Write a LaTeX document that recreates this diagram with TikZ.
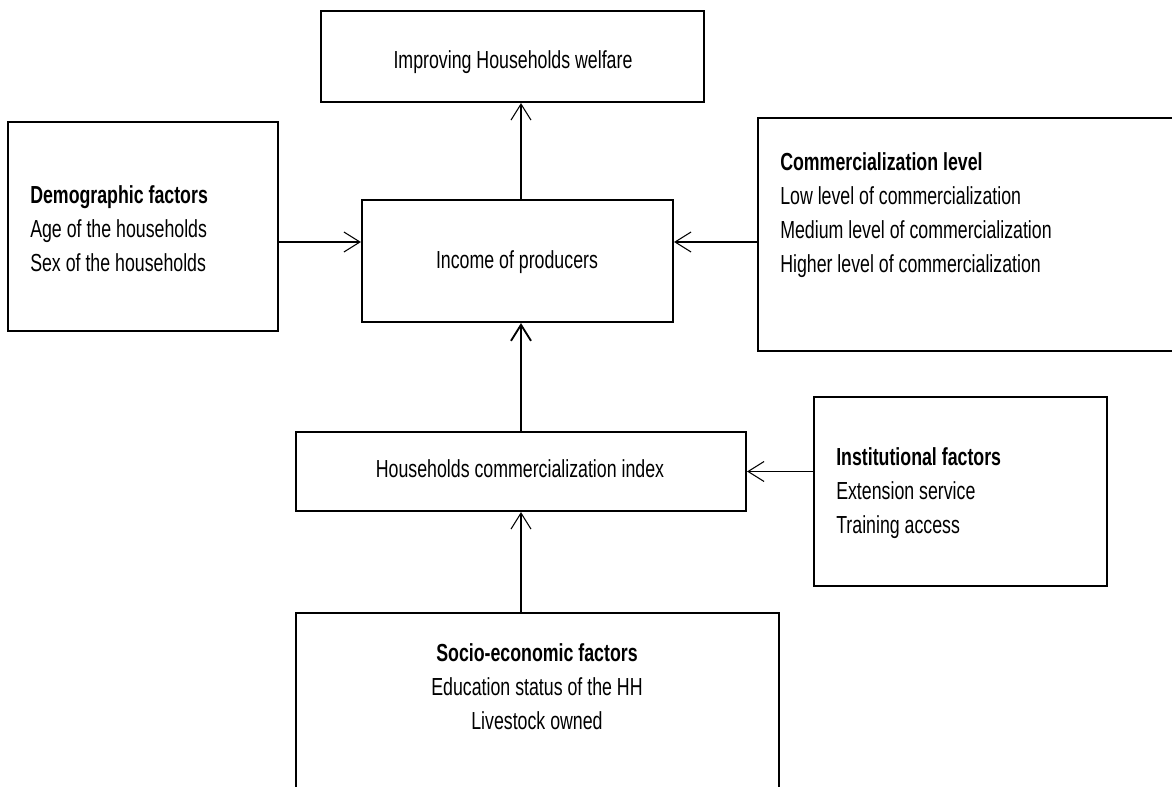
\documentclass[tikz,border=0pt]{standalone}
\usepackage{fontspec}
\setmainfont[FakeStretch=0.72]{Liberation Sans}
\usetikzlibrary{arrows.meta,fit}
\tikzset{
  box/.style={draw, line width=1.6pt, inner sep=0pt},
  txt/.style={inner sep=0pt, align=left},
  link/.style={->, line width=0.8pt}
}
\begin{document}
\begin{tikzpicture}[x=0.75pt, y=-0.75pt, line join=miter,
    >={Straight Barb[length=12pt,width=15pt]},
    font=\fontsize{18.5}{25.5}\selectfont]
  \useasboundingbox (0,0) rectangle (1172,787);
  \clip (0,0) rectangle (1172,787);
  % boxes
  \node[box, fit={(321,11) (704,102)}] (welfare) {};
  \node[box, fit={(8,122) (278,331)}] (demo) {};
  \node[box, fit={(362,200) (673,322)}] (income) {};
  \node[box, fit={(758,118) (1200,351)}] (comm) {};
  \node[box, fit={(296,432) (746,511)}] (index) {};
  \node[box, fit={(814,397) (1107,586)}] (inst) {};
  \node[box, fit={(296,613) (779,820)}] (socio) {};
  % texts
  \node[txt] (welfaretxt) at (513,62) {Improving Households welfare};
  \node[txt] (incometxt) at (517,262) {Income of producers};
  \node[txt] (indextxt) at (520,469) {Households commercialization index};
  \node[txt, anchor=west] (demotxt) at (30,229)
    {\textbf{Demographic factors}\\Age of the households\\Sex of the households};
  \node[txt, anchor=west] (commtxt) at (780,215)
    {\textbf{Commercialization level}\\Low level of commercialization\\Medium level of commercialization\\Higher level of commercialization};
  \node[txt, anchor=west] (insttxt) at (836,493)
    {\textbf{Institutional factors}\\Extension service\\Training access};
  \node[txt, align=center] (sociotxt) at (537,687)
    {\textbf{Socio-economic factors}\\Education status of the HH\\Livestock owned};
  % arrows
  \coordinate (row) at (0,242);
  \draw[link] (index.north |- income.north) -- (index.north |- welfare.south);
  \draw[link] (demo.east |- row) -- (income.west |- row);
  \draw[link] (comm.west |- row) -- (income.east |- row);
  \draw[link, line width=1.4pt] (index.north) -- (index.north |- income.south);
  \draw[link] (inst.west |- index.east) -- (index.east);
  \draw[link] (index.south |- socio.north) -- (index.south);
\end{tikzpicture}
\end{document}
